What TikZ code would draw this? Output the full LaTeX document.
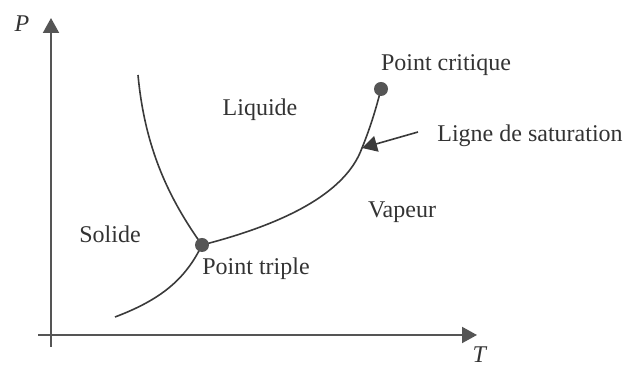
\documentclass[tikz,border=0pt]{standalone}
\usepackage{fontspec}
\setmainfont{Liberation Serif}
\usetikzlibrary{arrows.meta}
\definecolor{axe}{HTML}{555555}
\definecolor{courbe}{HTML}{3A3A3A}

\begin{document}
\begin{tikzpicture}[x=0.5pt, y=-0.5pt, every node/.style={font=\fontsize{12}{14}\selectfont, text=black!80, inner sep=0pt}, point/.style={circle, fill=axe, minimum size=7pt}, >={Triangle[length=7.5pt, width=8pt]}]
\useasboundingbox (0,0) rectangle (627,367);
% axes
\coordinate (ox) at (38,335); \coordinate (tx) at (477,335);
\coordinate (oy) at (51,347); \coordinate (ty) at (51,18);
\foreach \x/\y in {ox/tx,oy/ty} \draw[->, axe, line width=1pt] (\x) -- (\y);
\node (P) at (22,24) {\textit{P}};
\node (T) at (480,355) {\textit{T}};
% courbes d'equilibre
\coordinate (tp) at (202,245); \coordinate (pc) at (381,89);
\coordinate (fus) at (138,75); \coordinate (sub) at (115,317); \coordinate (sat) at (362,148);
\draw[courbe, line width=0.8pt] (fus) .. controls (145,150) and (170,200) .. (tp);
\draw[courbe, line width=0.8pt] (sub) .. controls (160,300) and (185,280) .. (tp);
\draw[courbe, line width=0.8pt] (tp) .. controls (280,225) and (345,195) .. (sat) .. controls (371,126) and (377,105) .. (pc);
\node[point] (ptriple) at (tp) {};
\node[point] (pcrit) at (pc) {};
% textes
\node (critique) at (446,65) {Point critique};
\node (liquide) at (260,110) {Liquide};
\node (ligne) [anchor=west] at (437,136) {Ligne de saturation};
\node (vapeur) at (402,212) {Vapeur};
\node (solide) at (110,234) {Solide};
\node (triple) at (256,269) {Point triple};
\coordinate (fl) at (418,132);
\draw[->, courbe, line width=0.8pt] (fl) -- (sat);
\end{tikzpicture}
\end{document}
